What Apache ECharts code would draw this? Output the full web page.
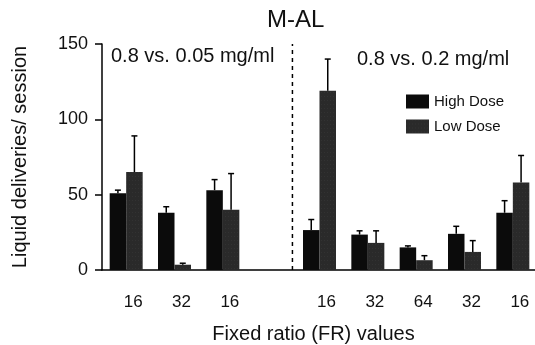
<!DOCTYPE html>
<html>
<head>
<meta charset="utf-8">
<script src="https://cdn.jsdelivr.net/npm/echarts@6/dist/echarts.min.js"></script>
<style>
  html, body { margin: 0; padding: 0; background: #fff; }
  #chart { width: 535px; height: 345px; }
</style>
</head>
<body>
<div id="chart"></div>
<script>
// FR values per group (empty slot separates the two dose comparisons)
var frLabels = ['16', '32', '16', '', '16', '32', '64', '32', '16'];
var highDose = [51, 38, 53, null, 26.5, 23.5, 15, 24, 38];
var highErr = [2, 4, 7, null, 7, 2.5, 1, 5, 8];
var lowDose = [65, 3.5, 40, null, 119, 18, 6.5, 12, 58];
var lowErr = [24, 1, 24, null, 21, 8, 3, 7.5, 18];
var yTicks = [0, 50, 100, 150];
var dividerAt = 3.94; // position of dashed separator, in slot units

var font = 'Liberation Sans, Arial, Helvetica, sans-serif';
var BAR_W = 16.5;

function errData(vals, errs) {
  var out = [];
  vals.forEach(function (v, i) {
    if (v != null) out.push([i, v, errs[i]]);
  });
  return out;
}

function errorItem(offset) {
  return function (params, api) {
    var i = api.value(0), v = api.value(1), e = api.value(2);
    var base = api.coord([i, v]);
    var top = api.coord([i, v + e]);
    var x = base[0] + offset;
    var st = { stroke: '#000', lineWidth: 1.5 };
    return {
      type: 'group',
      children: [
        { type: 'line', shape: { x1: x, y1: base[1], x2: x, y2: top[1] }, style: st },
        { type: 'line', shape: { x1: x - 3, y1: top[1], x2: x + 3, y2: top[1] }, style: st }
      ]
    };
  };
}

var chart = echarts.init(document.getElementById('chart'));
chart.setOption({
  animation: false,
  textStyle: { fontFamily: font, color: '#111' },
  title: {
    text: 'M-AL',
    left: 262,
    top: 3,
    textStyle: { fontFamily: font, fontSize: 24, fontWeight: 'normal', color: '#111' }
  },
  legend: {
    orient: 'vertical',
    left: 401,
    top: 89,
    itemWidth: 23,
    itemHeight: 14,
    itemGap: 10,
    icon: 'rect',
    data: ['High Dose', 'Low Dose'],
    textStyle: { fontFamily: font, fontSize: 15, color: '#111' }
  },
  graphic: [
    { type: 'text', left: 111, top: 46, style: { text: '0.8 vs. 0.05 mg/ml', font: '20px ' + font, fill: '#111' } },
    { type: 'text', left: 357, top: 49, style: { text: '0.8 vs. 0.2 mg/ml', font: '20px ' + font, fill: '#111' } }
  ],
  grid: { left: 102, right: -2, top: 44, bottom: 75, outerBoundsMode: 'none' },
  xAxis: [{
    type: 'category',
    data: frLabels.map(function (_, i) { return String(i); }),
    name: 'Fixed ratio (FR) values',
    nameLocation: 'middle',
    nameGap: 54,
    nameTextStyle: { fontFamily: font, fontSize: 20, color: '#111', padding: [0, 12, 0, 0] },
    axisLine: { lineStyle: { color: '#000', width: 1.5 } },
    axisTick: { interval: 0, length: 7, lineStyle: { color: '#000', width: 1.5 } },
    axisLabel: {
      interval: 0,
      margin: 24,
      fontSize: 17,
      color: '#111',
      padding: [0, 0, 0, 14],
      formatter: function (v, i) { return frLabels[i]; }
    }
  }, {
    type: 'value',
    min: 0,
    max: frLabels.length,
    show: false
  }],
  yAxis: {
    type: 'value',
    min: yTicks[0],
    max: yTicks[yTicks.length - 1],
    interval: yTicks[1] - yTicks[0],
    name: 'Liquid deliveries/ session',
    nameLocation: 'middle',
    nameGap: 72,
    nameTextStyle: { fontFamily: font, fontSize: 20, color: '#111' },
    axisLine: { show: true, lineStyle: { color: '#000', width: 1.5 } },
    axisTick: { show: true, length: 7, lineStyle: { color: '#000', width: 1.5 } },
    axisLabel: { margin: 14, fontSize: 18, color: '#111' },
    splitLine: { show: false }
  },
  series: [
    {
      name: 'High Dose',
      type: 'bar',
      data: highDose,
      barWidth: BAR_W,
      barGap: '0%',
      itemStyle: { color: '#0b0b0b' }
    },
    {
      name: 'Low Dose',
      type: 'bar',
      data: lowDose,
      barWidth: BAR_W,
      barGap: '0%',
      itemStyle: {
        color: '#2a2a2a',
        decal: {
          symbol: 'rect',
          symbolSize: 0.5,
          color: 'rgba(140,140,140,0.35)',
          dashArrayX: [1, 2],
          dashArrayY: [1, 3],
          rotation: 0
        }
      }
    },
    {
      type: 'custom',
      renderItem: errorItem(-BAR_W / 2),
      data: errData(highDose, highErr),
      z: 5
    },
    {
      type: 'custom',
      renderItem: errorItem(BAR_W / 2),
      data: errData(lowDose, lowErr),
      z: 5
    },
    {
      type: 'line',
      xAxisIndex: 1,
      data: [[dividerAt, yTicks[0]], [dividerAt, yTicks[yTicks.length - 1]]],
      symbol: 'none',
      silent: true,
      lineStyle: { color: '#000', width: 1.5, type: [4, 4] }
    }
  ]
});
</script>
</body>
</html>
